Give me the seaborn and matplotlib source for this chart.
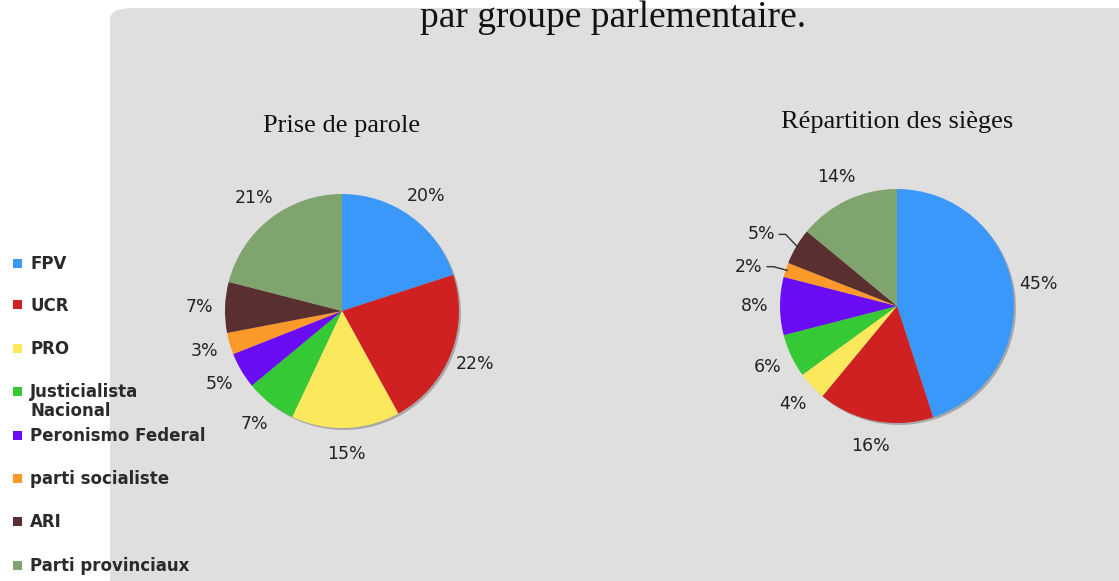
import matplotlib
matplotlib.use('Agg')
import matplotlib.pyplot as plt
import seaborn as sns
import numpy as np
from matplotlib.patches import FancyBboxPatch, Rectangle

sns.set_theme(style='white')
plt.rcParams['font.family'] = ['DejaVu Sans']

# données
groupes = ['FPV', 'UCR', 'PRO', 'Justicialista\nNacional', 'Peronismo Federal',
           'parti socialiste', 'ARI', 'Parti provinciaux']
prise_parole = [20, 22, 15, 7, 5, 3, 7, 21]
sieges = [45, 16, 4, 6, 8, 2, 5, 14]
couleurs = ['#3a98fb', '#cf2121', '#fbe85c', '#35c935', '#6a0cf4',
            '#fb9a2a', '#5a2f2f', '#80a46e']
palette = sns.color_palette(couleurs)

W, H = 1119, 581
fig = plt.figure(figsize=(W / 100, H / 100), dpi=100)
fig.patch.set_facecolor('white')

# panneau gris arrondi
panel = FancyBboxPatch((110 / W, -0.05), 1.1, 1 - 8 / H + 0.05,
                       boxstyle='round,pad=0,rounding_size=0.02',
                       transform=fig.transFigure, facecolor='#dfdfdf',
                       edgecolor='none', zorder=-5)
fig.patches.append(panel)

fig.text(613 / W, 1 - 27 / H, 'par groupe parlementaire.', ha='center',
         va='baseline', fontsize=27, family='Liberation Serif', color='#111111')


def dessine_pie(cx, cy, r, valeurs, titre, ty):
    lim = 1.5
    side = 2 * lim * r
    ax = fig.add_axes([(cx - side / 2) / W, 1 - (cy + side / 2) / H, side / W, side / H])
    ax.patch.set_alpha(0)
    wedges, _, pcts = ax.pie(valeurs, colors=palette, startangle=90, counterclock=False,
                             autopct=lambda p: f'{p:.0f}%', pctdistance=1.22,
                             wedgeprops=dict(linewidth=0),
                             shadow=dict(ox=0.012, oy=-0.012, facecolor='#9a9a9a',
                                         edgecolor='none', alpha=0.8),
                             textprops=dict(fontsize=12.5, color='#222222'))
    ax.set_xlim(-lim, lim)
    ax.set_ylim(-lim, lim)
    ax.set_axis_off()
    fig.text(cx / W, 1 - ty / H, titre, ha='center', va='baseline', fontsize=19,
             family='Liberation Serif', color='#111111')
    return ax, wedges, pcts


dessine_pie(342, 311, 117, prise_parole, 'Prise de parole', 132)
ax2, wedges2, pcts2 = dessine_pie(897, 306, 117, sieges, 'Répartition des sièges', 128)

# étiquettes avec traits pour les petites parts (2% et 5%)
for i, dist in [(5, 1.33), (6, 1.35)]:
    w = wedges2[i]
    ang = np.deg2rad((w.theta1 + w.theta2) / 2)
    x0, y0 = np.cos(ang), np.sin(ang)
    tx, ty = dist * x0, dist * y0 - 0.075
    pcts2[i].set_position((tx, ty))
    ax2.plot([tx + 0.15, tx + 0.21, 0.98 * x0], [ty, ty, 0.98 * y0],
             color='#333333', lw=1, solid_capstyle='butt')

# légende à gauche
rows = [263, 305, 348, 391, 435, 478, 521, 565]
for nom, col, y in zip(groupes, couleurs, rows):
    fig.patches.append(Rectangle((13 / W, 1 - (y + 4.5) / H), 9 / W, 9 / H,
                                 transform=fig.transFigure, facecolor=col,
                                 edgecolor='none'))
    fig.text(30 / W, 1 - (y - 8) / H, nom, ha='left', va='top', fontsize=12,
             fontweight='bold', color='#2a2a2a', linespacing=1.1)

fig.savefig('out.png', dpi=100, facecolor='white')
